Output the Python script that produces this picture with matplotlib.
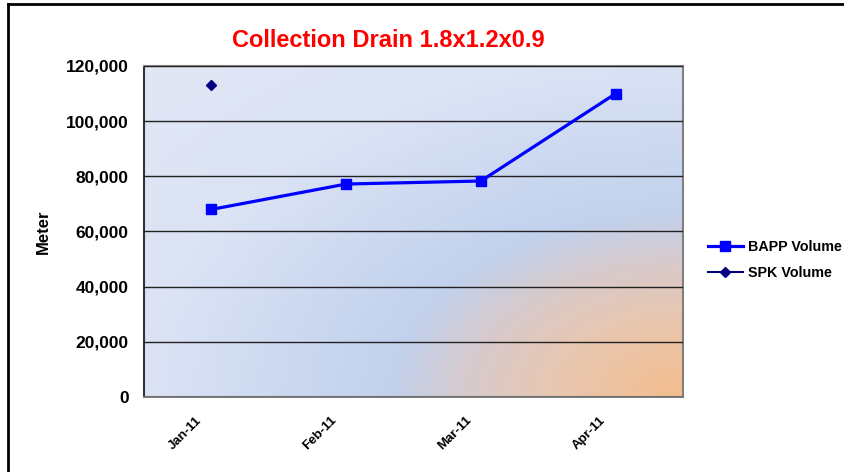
import numpy as np
import matplotlib
matplotlib.use("Agg")
import matplotlib.pyplot as plt
from matplotlib.ticker import FuncFormatter, NullFormatter

plt.rcParams['font.family'] = ['Liberation Sans', 'DejaVu Sans']

# data
months = ["Jan-11", "Feb-11", "Mar-11", "Apr-11"]
bapp_volume = [68000, 77200, 78300, 110000]
spk_volume = [113000, None, None, None]

fig = plt.figure(figsize=(8.45, 4.72), dpi=100)
ax = fig.add_axes([0.1704, 0.1589, 0.638, 0.7013])

# background gradient of the plot area (from bottom-right corner)
w, h = 540, 332
xx, yy = np.meshgrid(np.arange(w), np.arange(h))
d = np.sqrt((w - xx) ** 2 + (1.6 * yy) ** 2)  # row 0 = bottom (origin lower)
stops = [0, 130, 210, 295, 540, 800]
cols = np.array([[0.96, 0.74, 0.55],
                 [0.91, 0.78, 0.69],
                 [0.85, 0.79, 0.79],
                 [0.76, 0.82, 0.93],
                 [0.86, 0.89, 0.96],
                 [0.89, 0.91, 0.96]])
img = np.zeros((h, w, 3))
for c in range(3):
    img[..., c] = np.interp(d, stops, cols[:, c])
ax.imshow(img, extent=[-0.5, 3.5, 0, 120000], origin="lower",
          aspect="auto", zorder=0)

x = np.arange(len(months))
ax.plot(x, bapp_volume, color="#0000ff", lw=2.3, marker="s", ms=7.5,
        label="BAPP Volume", zorder=3)
spk = [np.nan if v is None else v for v in spk_volume]
ax.plot(x, spk, color="#000080", lw=1.5, marker="D", ms=5,
        label="SPK Volume", zorder=3)

ax.set_xlim(-0.5, 3.5)
ax.set_ylim(0, 120000)
ax.set_yticks(np.arange(0, 120001, 20000))
ax.yaxis.set_major_formatter(FuncFormatter(lambda v, p: f"{int(v):,}"))
ax.set_xticks(x)
ax.xaxis.set_major_formatter(NullFormatter())
for xi, m in zip(x, months):
    ax.annotate(m, xy=(xi, 0), xycoords=("data", "axes fraction"),
                xytext=(-8.5, -15.5), textcoords="offset points",
                rotation=45, ha="right", va="center", rotation_mode="anchor",
                fontsize=9.5, fontweight="bold", annotation_clip=False)
for lbl in ax.get_yticklabels():
    lbl.set_fontsize(12.5)
    lbl.set_fontweight("bold")
ax.tick_params(axis="y", length=0, pad=11)
ax.tick_params(axis="x", length=0)
ax.grid(axis="y", color="#222222", lw=1, zorder=1)
ax.set_axisbelow(False)
for s in ["top", "right", "bottom"]:
    ax.spines[s].set_color("#808080")
    ax.spines[s].set_linewidth(1.5)
ax.spines["left"].set_color("#333333")
ax.spines["left"].set_linewidth(1.5)

ax.set_ylabel("Meter", fontsize=12, fontweight="bold")
ax.yaxis.set_label_coords(-0.172, 0.5)
fig.text(0.459, 0.915, "Collection Drain 1.8x1.2x0.9", color="red",
         fontsize=17, fontweight="bold", ha="center", va="center")

ax.legend(loc="center left", bbox_to_anchor=(1.0214, 0.414), frameon=False,
          prop={"weight": "bold", "size": 10.3}, handlelength=2.5,
          labelspacing=0.9, handletextpad=0.3)

# outer chart border (only left and top edges fall inside the picture)
fig.add_artist(plt.Line2D([0.0089, 0.0089], [0.0, 0.9915], color="black",
                          lw=2, transform=fig.transFigure))
fig.add_artist(plt.Line2D([0.0089, 1.0], [0.9915, 0.9915], color="black",
                          lw=2, transform=fig.transFigure))

fig.savefig("out.png", dpi=100)
